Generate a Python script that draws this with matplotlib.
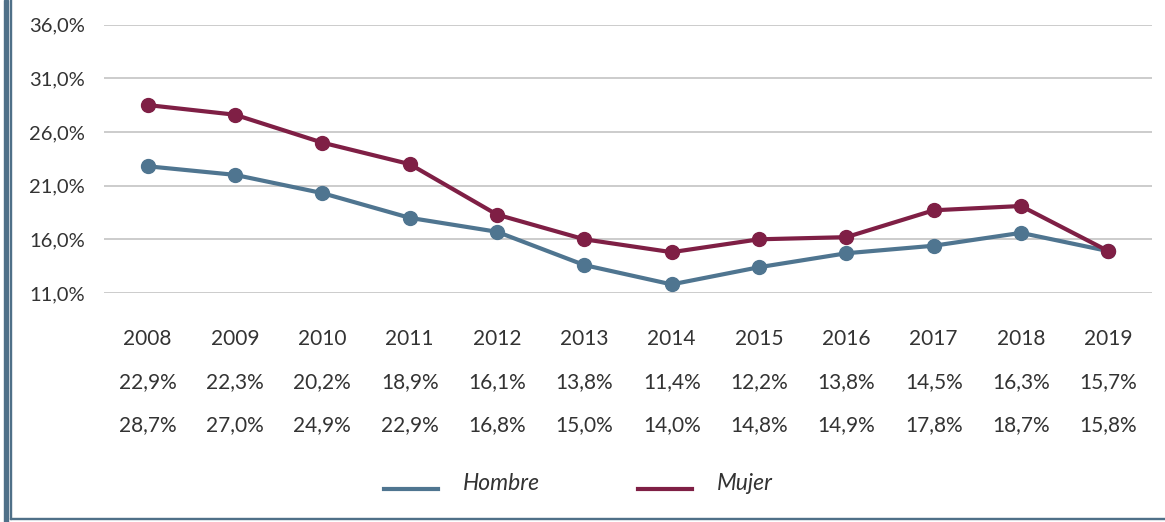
import matplotlib
matplotlib.use("Agg")
from matplotlib import pyplot as plt
from matplotlib.lines import Line2D
from matplotlib.patches import Rectangle
import matplotlib.transforms as mtransforms

# data
years = ["2008", "2009", "2010", "2011", "2012", "2013",
         "2014", "2015", "2016", "2017", "2018", "2019"]
hombre = [22.8, 22.0, 20.3, 18.0, 16.7, 13.6, 11.8, 13.4, 14.7, 15.4, 16.6, 14.9]
mujer = [28.5, 27.6, 25.0, 23.0, 18.3, 16.0, 14.8, 16.0, 16.2, 18.7, 19.1, 14.9]
hombre_lbl = ["22,9%", "22,3%", "20,2%", "18,9%", "16,1%", "13,8%",
              "11,4%", "12,2%", "13,8%", "14,5%", "16,3%", "15,7%"]
mujer_lbl = ["28,7%", "27,0%", "24,9%", "22,9%", "16,8%", "15,0%",
             "14,0%", "14,8%", "14,9%", "17,8%", "18,7%", "15,8%"]
yticks = [11, 16, 21, 26, 31, 36]

c_h = "#4f7590"
c_m = "#7f1f45"
c_txt = "#333333"
c_border = "#4f7088"

plt.rcParams['font.family'] = ['Lato', 'DejaVu Sans']

W, H = 1165, 522
fig = plt.figure(figsize=(W / 100, H / 100), dpi=100)
ax = fig.add_axes([104 / W, 1 - 293 / H, (1152 - 104) / W, (293 - 24.5) / H])

x = list(range(len(years)))
ax.plot(x, hombre, color=c_h, lw=3, marker='o', ms=10, clip_on=False, zorder=3)
ax.plot(x, mujer, color=c_m, lw=3, marker='o', ms=10, clip_on=False, zorder=4)

ax.set_xlim(-0.5, 11.5)
ax.set_ylim(11, 36)
ax.set_yticks(yticks)
ax.set_yticklabels(["%d,0%%" % v for v in yticks], fontsize=14.5, color=c_txt)
ax.tick_params(axis='y', length=0, pad=13.5)
ax.set_xticks([])
ax.grid(axis='y', color='#c8c8c8', lw=1.3)
ax.set_axisbelow(True)
for s in ax.spines.values():
    s.set_visible(False)

# table under the chart
tr = mtransforms.blended_transform_factory(ax.transData, fig.transFigure)
for i in x:
    ax.text(i, 1 - 339 / H, years[i], transform=tr, ha='center', va='center',
            fontsize=15, color=c_txt)
    ax.text(i, 1 - 382 / H, hombre_lbl[i], transform=tr, ha='center', va='center',
            fontsize=15, color=c_txt)
    ax.text(i, 1 - 425 / H, mujer_lbl[i], transform=tr, ha='center', va='center',
            fontsize=15, color=c_txt)

# legend
for x0, col, name in [(384, c_h, "Hombre"), (638, c_m, "Mujer")]:
    fig.add_artist(Line2D([x0 / W, (x0 + 54) / W], [1 - 489 / H, 1 - 489 / H],
                          color=col, lw=3, transform=fig.transFigure))
    fig.text((x0 + 79) / W, 1 - 483 / H, name, ha='left', va='center',
             fontsize=16.5, style='italic', color=c_txt)

# frame lines
fig.add_artist(Rectangle((4 / W, 0), 4 / W, 1, color=c_border,
                         transform=fig.transFigure))
fig.add_artist(Rectangle((10 / W, 3 / H), 1.2 / W, 1, color=c_border,
                         transform=fig.transFigure))
fig.add_artist(Rectangle((10 / W, 3 / H), 1, 1.3 / H, color=c_border,
                         transform=fig.transFigure))

fig.savefig("out.png", dpi=100)
